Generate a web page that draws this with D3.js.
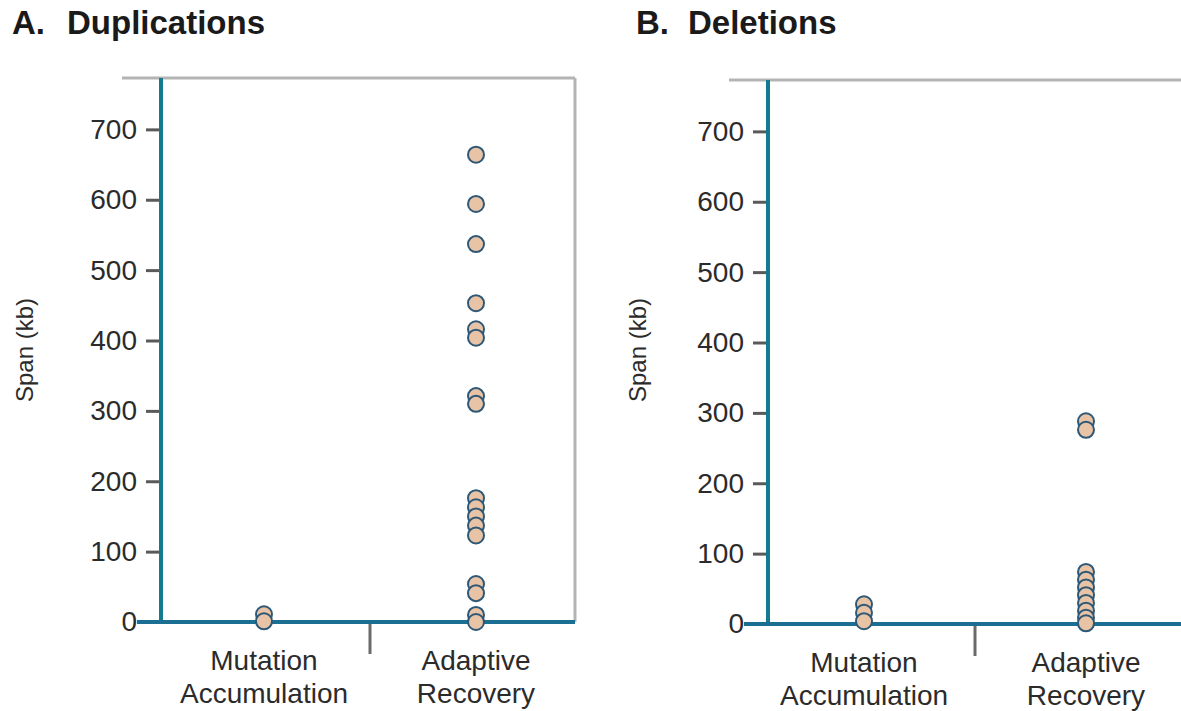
<!DOCTYPE html>
<html>
<head>
<meta charset="utf-8">
<script src="https://cdn.jsdelivr.net/npm/d3@7"></script>
<style>
  html, body { margin: 0; padding: 0; background: #fff; }
  svg { display: block; font-family: "Liberation Sans", Arial, sans-serif; }
</style>
</head>
<body>
<svg id="chart" width="1181" height="711"></svg>
<script>
// Categories and tick labels
const categories = ["Mutation Accumulation", "Adaptive Recovery"];
const yTicks = [0, 100, 200, 300, 400, 500, 600, 700];

// Span (kb) of each event, per panel and category
const dupMutation = [11, 1];
const dupAdaptive = [664, 594, 537, 453, 416, 404, 321, 310, 176, 163, 150, 137, 123, 54, 41, 10, 0];
const delMutation = [28, 16, 4];
const delAdaptive = [288, 276, 74, 63, 52, 41, 30, 19, 9, 1];

const panels = [
  { letter: "A.", title: "Duplications", titleX: 12, wordX: 67,
    axisX: 161, rightX: 575, top: 78, bottom: 622, xRange: [158, 582], labelX: 33,
    data: [dupMutation, dupAdaptive] },
  { letter: "B.", title: "Deletions", titleX: 636, wordX: 688,
    axisX: 768, rightX: 1195, top: 80, bottom: 624, xRange: [753, 1197], labelX: 646,
    data: [delMutation, delAdaptive] }
];

const textColor = "#2b2b2b";
const svg = d3.select("#chart");

panels.forEach(p => {
  const g = svg.append("g");

  const y = d3.scaleLinear().domain([0, 773]).range([p.bottom, p.top]);
  const x = d3.scaleBand().domain(categories).range(p.xRange).padding(0);

  // Panel title
  g.append("text").attr("x", p.titleX).attr("y", 34)
    .attr("font-size", 33).attr("font-weight", "bold").attr("fill", "#1a1a1a")
    .text(p.letter);
  g.append("text").attr("x", p.wordX).attr("y", 34)
    .attr("font-size", 33).attr("font-weight", "bold").attr("fill", "#1a1a1a")
    .text(p.title);

  // Frame: top and right borders
  g.append("line").attr("x1", p.axisX - 39).attr("x2", p.rightX)
    .attr("y1", p.top).attr("y2", p.top)
    .attr("stroke", "#b4b4b4").attr("stroke-width", 3);
  g.append("line").attr("x1", p.rightX).attr("x2", p.rightX)
    .attr("y1", p.top).attr("y2", p.bottom)
    .attr("stroke", "#b4b4b4").attr("stroke-width", 3);

  // Y axis with ticks
  const yAxis = d3.axisLeft(y).tickValues(yTicks).tickSize(13).tickPadding(9);
  const ya = g.append("g").attr("transform", `translate(${p.axisX - 2},0)`).call(yAxis);
  ya.select(".domain").remove();
  ya.selectAll(".tick line").attr("stroke", "#5a5a5a").attr("stroke-width", 3);
  ya.selectAll(".tick text").attr("font-size", 28).attr("fill", textColor)
    .attr("font-family", "Liberation Sans, Arial, sans-serif");

  // Category separator tick
  const sep = x(categories[1]);
  g.append("line").attr("x1", sep).attr("x2", sep)
    .attr("y1", p.bottom).attr("y2", p.bottom + 32)
    .attr("stroke", "#6a6a6a").attr("stroke-width", 3);

  // Axis lines
  g.append("line").attr("x1", p.axisX).attr("x2", p.axisX)
    .attr("y1", p.top).attr("y2", p.bottom)
    .attr("stroke", "#137b8d").attr("stroke-width", 4);
  g.append("line").attr("x1", p.axisX - 24).attr("x2", p.rightX)
    .attr("y1", p.bottom).attr("y2", p.bottom)
    .attr("stroke", "#1b6f93").attr("stroke-width", 4);

  // Y axis title
  g.append("text")
    .attr("transform", `translate(${p.labelX},350) rotate(-90)`)
    .attr("text-anchor", "middle").attr("font-size", 24).attr("fill", textColor)
    .text("Span (kb)");

  // Category labels (two lines)
  categories.forEach(c => {
    const cx = x(c) + x.bandwidth() / 2;
    c.split(" ").forEach((w, i) => {
      g.append("text").attr("x", cx).attr("y", p.bottom + 48 + i * 33)
        .attr("text-anchor", "middle").attr("font-size", 28).attr("fill", textColor)
        .text(w);
    });
  });

  // Points
  categories.forEach((c, ci) => {
    const cx = x(c) + x.bandwidth() / 2;
    g.append("g").selectAll("circle")
      .data(p.data[ci]).join("circle")
      .attr("cx", cx).attr("cy", d => y(d)).attr("r", 8)
      .attr("fill", "#e9c3a5").attr("stroke", "#2d5877").attr("stroke-width", 2);
  });
});
</script>
</body>
</html>
